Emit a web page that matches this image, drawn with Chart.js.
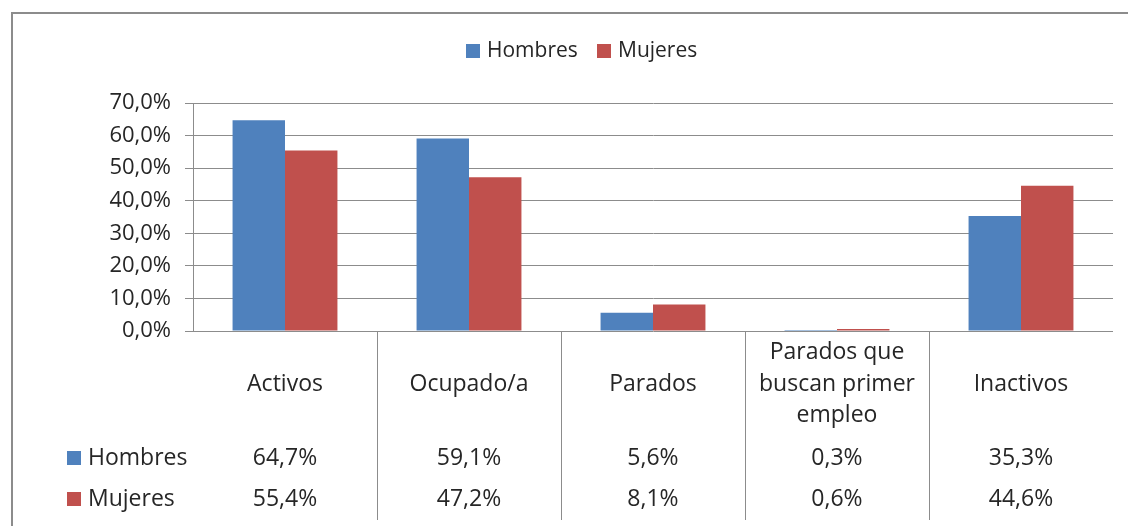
<!DOCTYPE html>
<html>
<head>
<meta charset="utf-8">
<script src="https://cdn.jsdelivr.net/npm/chart.js@4"></script>
<style>
  html, body { margin: 0; padding: 0; background: #fff; }
  #wrap { width: 1128px; height: 526px; position: relative; }
</style>
</head>
<body>
<div id="wrap"><canvas id="chart"></canvas></div>
<script>
// Datos del gráfico
const categorias = ["Activos", "Ocupado/a", "Parados", ["Parados que", "buscan primer", "empleo"], "Inactivos"];
const hombres = [64.7, 59.1, 5.6, 0.3, 35.3];
const mujeres = [55.4, 47.2, 8.1, 0.6, 44.6];
const series = ["Hombres", "Mujeres"];
const colores = ["#4F81BD", "#C0504D"];
const yMax = 70;
const yPaso = 10;

const FUENTE = "'Open Sans', sans-serif";
const TEXTO = "#262626";
const GRIS = "#8c8c8c";

function pct(v) {
  return v.toFixed(1).replace(".", ",") + "%";
}

// Dibujar el marco, la leyenda y la tabla de datos
const tablaPlugin = {
  id: "tabla",
  afterDraw(chart) {
    const c = chart.ctx;
    const x = chart.scales.x;
    const area = chart.chartArea;
    c.save();

    // marco exterior
    c.strokeStyle = GRIS;
    c.lineWidth = 2;
    c.strokeRect(12, 13, 1300, 700);

    c.textBaseline = "middle";

    // leyenda superior
    c.font = "21px " + FUENTE;
    const leyX = [466, 597];
    series.forEach((s, i) => {
      c.fillStyle = colores[i];
      c.fillRect(leyX[i], 44, 14, 14);
      c.fillStyle = TEXTO;
      c.textAlign = "left";
      c.fillText(s, leyX[i] + 21, 51);
    });

    // líneas verticales de la tabla
    c.strokeStyle = GRIS;
    c.lineWidth = 1;
    const ancho = (area.right - area.left) / categorias.length;
    for (let i = 1; i < categorias.length; i++) {
      const lx = Math.round(area.left + ancho * i) + 0.5;
      c.beginPath();
      c.moveTo(lx, area.bottom);
      c.lineTo(lx, 520);
      c.stroke();
    }

    // etiquetas de categoría
    c.font = "23px " + FUENTE;
    c.textAlign = "center";
    categorias.forEach((cat, i) => {
      const cx = x.getPixelForValue(i);
      const lineas = Array.isArray(cat) ? cat : [cat];
      const y0 = 384 - (lineas.length - 1) * 31.5 / 2;
      lineas.forEach((l, j) => c.fillText(l, cx, y0 + j * 31.5));
    });

    // filas de valores
    const filas = [hombres, mujeres];
    const filaY = [458, 499];
    filas.forEach((vals, r) => {
      c.fillStyle = colores[r];
      c.fillRect(67, filaY[r] - 7, 14, 14);
      c.fillStyle = TEXTO;
      c.textAlign = "left";
      c.fillText(series[r], 88, filaY[r]);
      c.textAlign = "center";
      vals.forEach((v, i) => c.fillText(pct(v), x.getPixelForValue(i), filaY[r]));
    });

    c.restore();
  }
};

const ctx = document.getElementById("chart").getContext("2d");
const grafico = new Chart(ctx, {
  type: "bar",
  data: {
    labels: categorias,
    datasets: [
      { label: series[0], data: hombres, backgroundColor: colores[0] },
      { label: series[1], data: mujeres, backgroundColor: colores[1] },
    ],
  },
  options: {
    responsive: true,
    maintainAspectRatio: false,
    animation: false,
    layout: { padding: { top: 103, right: 15, left: 0, bottom: 0 } },
    plugins: {
      legend: { display: false },
      tooltip: { enabled: false },
    },
    datasets: {
      bar: { barPercentage: 1, categoryPercentage: 0.57 },
    },
    scales: {
      x: {
        ticks: { display: false },
        grid: { display: false },
        border: { display: false },
        afterFit(scale) { scale.height = 195; },
      },
      y: {
        min: 0,
        max: yMax,
        ticks: {
          stepSize: yPaso,
          padding: 14,
          color: TEXTO,
          font: { size: 22, family: FUENTE },
          callback: (v) => pct(v),
        },
        grid: { color: GRIS, tickLength: 8, tickColor: GRIS },
        border: { color: GRIS },
        afterFit(scale) { scale.width = 193; },
      },
    },
  },
  plugins: [tablaPlugin],
});
</script>
</body>
</html>
